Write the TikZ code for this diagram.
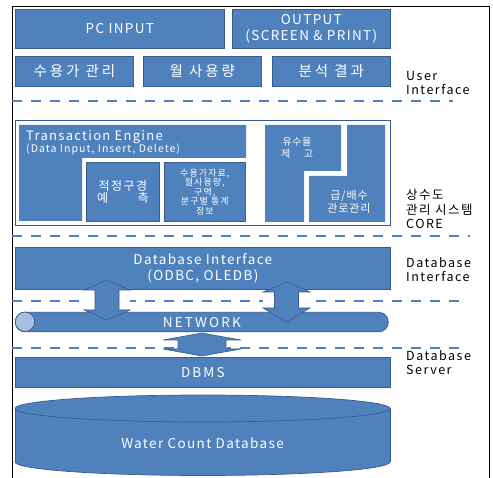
\documentclass[tikz,border=0pt]{standalone}
\usepackage{fontspec}
\setmainfont{Noto Sans CJK KR}

\definecolor{boxblue}{HTML}{4F81BD}
\definecolor{edgeblue}{HTML}{385D8A}
\definecolor{pipeend}{HTML}{A7BFDE}

\newcommand*{\pw}{493}
\newcommand*{\ph}{478}
\newcommand*{\spaced}[1]{\addfontfeature{LetterSpace=#1}}

\begin{document}
\begin{tikzpicture}
[
	x=1pt, y=-1pt,
	blk/.style={rectangle,draw=edgeblue,fill=boxblue,text=white,anchor=north west,inner sep=0pt,line width=0.7pt,align=center,font=\fontsize{13.5}{15.5}\selectfont\spaced{10}},
	krblk/.style={blk,font=\fontsize{14.5}{16}\selectfont\spaced{20}},
	netblk/.style={blk,font=\fontsize{13.5}{15.5}\selectfont\spaced{16}},
	sep/.style={boxblue,line width=2.5pt,dash pattern=on 10pt off 9pt},
	side/.style={anchor=north west,inner sep=0pt,align=left,font=\fontsize{12.5}{14.5}\selectfont\spaced{12}},
	wtxt/.style={text=white,inner sep=0pt,align=center},
	arr/.style={draw=edgeblue,fill=boxblue,line width=0.6pt}
]

	\useasboundingbox (0,0) rectangle (\pw,\ph);

	% frame
	\draw[line width=0.8pt] (12,480) -- (12,6) -- (489,6) -- (489,480);

	% user interface
	\node[blk,minimum width=209,minimum height=39] (pcin) at (15,9) {PC INPUT};
	\node[blk,minimum width=158,minimum height=39,font=\fontsize{13.5}{16.5}\selectfont\spaced{10}] (pcout) at (232,9) {OUTPUT\\(SCREEN \& PRINT)};
	\node[krblk,minimum width=118,minimum height=30] (cust) at (15,56) {수용가 관리};
	\node[krblk,minimum width=118,minimum height=30] (usage) at (143,56) {월 사용량};
	\node[krblk,minimum width=118,minimum height=30] (anal) at (272,56) {분석 결과};
	\node[side] (lblui) at (406,71) {User\\Interface};

	\draw[sep] (12,101) -- (453,101);

	% core
	\node[draw=edgeblue,line width=1.2pt,anchor=north west,inner sep=0pt,minimum width=375,minimum height=105] (core) at (15,120) {};

	\fill[boxblue] (19,125) -- (246,125) -- (246,158) -- (82,158) -- (82,221) -- (19,221) -- cycle;
	\node[wtxt,anchor=base west,font=\fontsize{13}{14}\selectfont\spaced{10}] (tetitle) at (26,141) {Transaction Engine};
	\node[wtxt,anchor=base west,font=\fontsize{10.5}{11}\selectfont\spaced{10}] (tesub) at (26,152.5) {(Data Input, Insert, Delete)};

	\node[blk,minimum width=73,minimum height=59,font=\fontsize{12}{11.5}\selectfont\spaced{12}] (size) at (86,162)
		{적정구경\\\makebox[4.3em][s]{예\hfill 측}};
	\node[blk,minimum width=81,minimum height=59,font=\fontsize{9}{9.5}\selectfont\spaced{12}] (info) at (164,162)
		{수용가자료,\\월사용량,\\구역,\\분구별 통계\\정보};

	\fill[boxblue] (265,125) -- (341,125) -- (341,171) -- (304,171) -- (304,222) -- (265,222) -- cycle;
	\fill[boxblue] (347,125) -- (385,125) -- (385,222) -- (309,222) -- (309,176) -- (347,176) -- cycle;
	\node[wtxt,font=\fontsize{10}{11.5}\selectfont\spaced{5}] (nrw) at (297,148) {유수율\\\makebox[3.2em][s]{제\hfill 고}};
	\node[wtxt,font=\fontsize{11}{12.5}\selectfont\spaced{8}] (pipe) at (349,202) {급/배수\\관로관리};

	\node[side] (lblcore) at (406,189) {상수도\\관리 시스템\\CORE};

	\draw[sep] (12,236) -- (470,236);

	% database interface
	\node[blk,minimum width=375,minimum height=42] (dbif) at (15,247) {Database Interface\\(ODBC, OLEDB)};
	\node[side] (lbldbi) at (406,257) {Database\\Interface};

	\draw[sep] (12,301) -- (462,301);

	% network
	\node[netblk,rounded corners=9.5pt,minimum width=373,minimum height=19.5] (net) at (15,312) {NETWORK};
	\node[circle,draw=edgeblue,fill=pipeend,line width=0.7pt,minimum size=19.5,inner sep=0pt] (netend) at (25,321.75) {};

	\fill[white] (84,290.5) rectangle (130,309.5);
	\draw[arr] (107,280) -- (130,290) -- (119,290) -- (119,310) -- (130,310) -- (107,320) -- (84,310) -- (95,310) -- (95,290) -- (84,290) -- cycle;
	\fill[white] (263,292.5) rectangle (310,307.5);
	\draw[arr] (286.5,282) -- (310,292) -- (298.5,292) -- (298.5,308) -- (310,308) -- (286.5,322) -- (263,308) -- (274.5,308) -- (274.5,292) -- (263,292) -- cycle;

	\draw[sep] (12,348) -- (462,348);

	\draw[white,line width=2.5pt] (178,340.5) -- (178,348.5) (226,340.5) -- (226,348.5);
	\draw[arr] (202,333) -- (241,340) -- (226,340) -- (226,349) -- (241,349) -- (202,356) -- (163,349) -- (178,349) -- (178,340) -- (163,340) -- cycle;

	% database server
	\node[netblk,minimum width=375,minimum height=30] (dbms) at (15,357) {DBMS};
	\node[side] (lbldbs) at (406,350) {Database\\Server};

	\fill[boxblue,draw=edgeblue,line width=0.7pt] (202.5,462) ellipse[x radius=187.5,y radius=13.5];
	\fill[boxblue] (15,408.5) rectangle (390,462);
	\draw[edgeblue,line width=0.7pt] (15,408.5) -- (15,462) (390,408.5) -- (390,462);
	\fill[boxblue,draw=edgeblue,line width=0.7pt] (202.5,408.5) ellipse[x radius=187.5,y radius=13.5];
	\node[wtxt,font=\fontsize{13.5}{15}\selectfont\spaced{10}] (wcdb) at (202.5,443) {Water Count Database};

\end{tikzpicture}
\end{document}
